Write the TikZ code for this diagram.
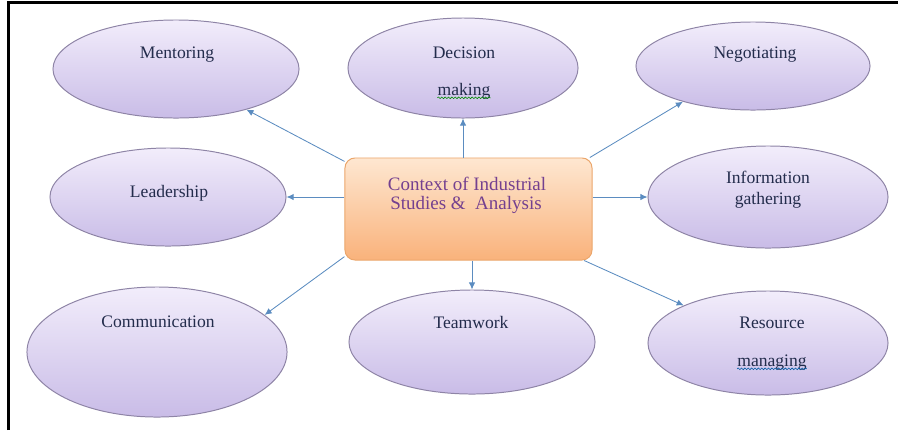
\documentclass[tikz,border=0pt]{standalone}
\usepackage{fontspec}
\newfontfamily\skillfont{LiberationSerif}[Extension=.ttf, UprightFont=*-Regular]
\usepackage{xcolor}
\usetikzlibrary{shapes.geometric,arrows.meta,decorations.pathmorphing}

\definecolor{lilactop}{HTML}{F2EDFB}
\definecolor{lilacbot}{HTML}{C9BCE7}
\definecolor{lilacedge}{HTML}{8E84A6}
\definecolor{peachtop}{HTML}{FEE7D1}
\definecolor{peachbot}{HTML}{F9B27B}
\definecolor{peachedge}{HTML}{EBA66B}
\definecolor{linkblue}{HTML}{5B8CC0}
\definecolor{inktext}{HTML}{232C4C}
\definecolor{plumtext}{HTML}{74408F}

\begin{document}
\begin{tikzpicture}[x=0.025cm, y=-0.025cm,
    skill/.style={ellipse, draw=lilacedge, line width=0.7pt, inner sep=0pt,
                  top color=lilactop, bottom color=lilacbot},
    hubbox/.style={rectangle, rounded corners=0.25cm, draw=peachedge, line width=0.7pt,
                   top color=peachtop, bottom color=peachbot, inner sep=0pt},
    txt/.style={text=inktext, font=\skillfont\fontsize{12.5}{15}\selectfont, inner sep=0pt, anchor=base},
    hubtxt/.style={text=plumtext, font=\skillfont\fontsize{13.5}{16}\selectfont, inner sep=0pt, anchor=base},
    link/.style={draw=linkblue, line width=0.6pt, -{Latex[length=5pt,width=4.5pt]}},
    squiggle/.style={decorate, decoration={snake, amplitude=0.6pt, segment length=2.4pt}, line width=0.4pt}]
  \useasboundingbox (0,0) rectangle (898,430);

  % frame
  \draw[line width=0.085cm] (8.5,430) -- (8.5,2.5) -- (898,2.5);

  % skills around the hub
  \foreach \nm/\cx/\cy/\ew/\eh in {ment/176/69/6.15/2.45, dec/463/68/5.75/2.5,
      neg/753/66/5.85/2.2, lead/168/197/5.9/2.45, info/768/197/6.0/2.55,
      comm/157/352/6.5/3.25, team/472/342/6.15/2.6, res/768/343/6.0/2.6}
    \node[skill, minimum width=\ew cm, minimum height=\eh cm] (\nm) at (\cx,\cy) {};

  \node[hubbox, minimum width=6.175cm, minimum height=2.55cm] (hub) at (468.5,209) {};
  \node[hubtxt] (hub-a) at (467,190) {Context of Industrial};
  \node[hubtxt] (hub-b) at (466,209) {Studies \&\ \ Analysis};

  \node[txt] (ment-l) at (177,58) {Mentoring};
  \node[txt] (dec-l) at (464,58) {Decision};
  \node[txt] (dec-m) at (464,95) {making};
  \node[txt] (neg-l) at (755,58) {Negotiating};
  \node[txt] (info-l) at (768,183) {Information};
  \node[txt] (info-m) at (768,204) {gathering};
  \node[txt] (lead-l) at (169,197) {Leadership};
  \node[txt] (comm-l) at (158,327) {Communication};
  \node[txt] (team-l) at (471,328) {Teamwork};
  \node[txt] (res-l) at (772,328) {Resource};
  \node[txt] (res-m) at (772,366) {managing};

  % spell-check marks
  \draw[squiggle, green!55!black] ([yshift=-2pt]dec-m.base west) -- ([yshift=-2pt]dec-m.base east);
  \draw[squiggle, teal!70!blue] ([yshift=-2pt]res-m.base west) -- ([yshift=-2pt]res-m.base east);

  % arrows out of the hub
  \draw[link] (hub.159) -- (ment.-30);
  \draw[link] (hub.north -| dec) -- (dec.south);
  \draw[link] (hub.23) -- (neg.207);
  \draw[link] (hub.west |- lead) -- (lead.east);
  \draw[link] (hub.east |- info) -- (info.west);
  \draw[link] (hub.201) -- (comm.19);
  \draw[link] (hub.south -| team) -- (team.north);
  \draw[link] (hub.-24) -- (res.156);
\end{tikzpicture}
\end{document}
